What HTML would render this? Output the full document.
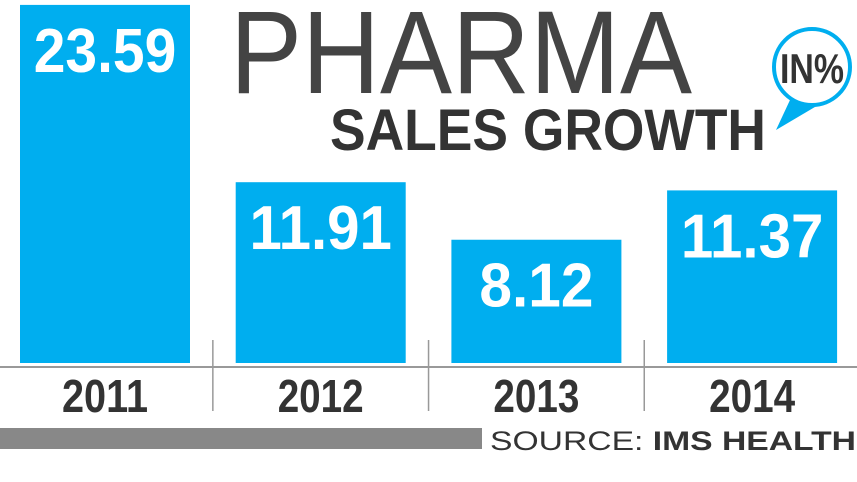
<!DOCTYPE html>
<html><head><meta charset="utf-8"><style>
html,body{margin:0;padding:0;background:#fff;width:857px;height:482px;overflow:hidden}
svg{display:block;font-family:"Liberation Sans",sans-serif}
</style></head><body>
<svg id="chart" width="857" height="482">
  <text x="230" y="93" font-size="118" fill="#444" textLength="462" lengthAdjust="spacingAndGlyphs">PHARMA</text>
  <text x="330" y="150" font-size="58" font-weight="bold" fill="#333" textLength="436" lengthAdjust="spacingAndGlyphs">SALES GROWTH</text>
  <g>
    <path d="M790 100 L776 130 L820 104 Z" fill="#00aeef"/>
    <circle cx="812" cy="67" r="38" fill="#fff" stroke="#00aeef" stroke-width="4"/>
    <text x="812" y="83" font-size="42" font-weight="bold" fill="#333" text-anchor="middle" textLength="64" lengthAdjust="spacingAndGlyphs">IN%</text>
  </g>
  <g id="bars"></g>
  <line x1="0" y1="367" x2="857" y2="367" stroke="#999" stroke-width="2"/>
  <rect x="0" y="428" width="482" height="21" fill="#888"/>
  <text x="490" y="450" font-size="27" fill="#333" textLength="366" lengthAdjust="spacingAndGlyphs">SOURCE: <tspan font-weight="bold">IMS HEALTH</tspan></text>
</svg>
<script>
const categories = ["2011","2012","2013","2014"];
const values = [23.59, 11.91, 8.12, 11.37];
const valueLabels = ["23.59","11.91","8.12","11.37"];
const ns = "http://www.w3.org/2000/svg";
const g = document.getElementById("bars");
const baseY = 363, pxPerUnit = 15.18, slot = 215.7, x0 = 20, barW = 170;
function xPos(i){ return x0 + i*slot; }
function yPos(v){ return baseY - v*pxPerUnit; }
categories.forEach((c,i)=>{
  const x = xPos(i), y = yPos(values[i]);
  const r = document.createElementNS(ns,"rect");
  r.setAttribute("x",x); r.setAttribute("y",y);
  r.setAttribute("width",barW); r.setAttribute("height",baseY-y);
  r.setAttribute("fill","#00aeef");
  
  
  g.appendChild(r);
  const t = document.createElementNS(ns,"text");
  t.setAttribute("x",x+barW/2); t.setAttribute("y",y+67);
  t.setAttribute("text-anchor","middle"); t.setAttribute("font-size","62");
  t.setAttribute("font-weight","bold"); t.setAttribute("fill","#fff");
  t.setAttribute("textLength", valueLabels[i].length*28.5);
  t.setAttribute("lengthAdjust","spacingAndGlyphs");
  t.textContent = valueLabels[i];
  
  
  g.appendChild(t);
  const yl = document.createElementNS(ns,"text");
  yl.setAttribute("x",x+barW/2); yl.setAttribute("y",412);
  yl.setAttribute("text-anchor","middle"); yl.setAttribute("font-size","46");
  yl.setAttribute("font-weight","bold"); yl.setAttribute("fill","#333");
  yl.setAttribute("textLength","86"); yl.setAttribute("lengthAdjust","spacingAndGlyphs");
  yl.textContent = c;
  
  
  g.appendChild(yl);
  if(i>0){
    const s = document.createElementNS(ns,"line");
    const sx = x - (slot-barW)/2;
    s.setAttribute("x1",sx); s.setAttribute("x2",sx);
    s.setAttribute("y1",340); s.setAttribute("y2",411);
    s.setAttribute("stroke","#999"); s.setAttribute("stroke-width","1.5");
    
    
    g.appendChild(s);
  }
});
</script>
</body></html>
